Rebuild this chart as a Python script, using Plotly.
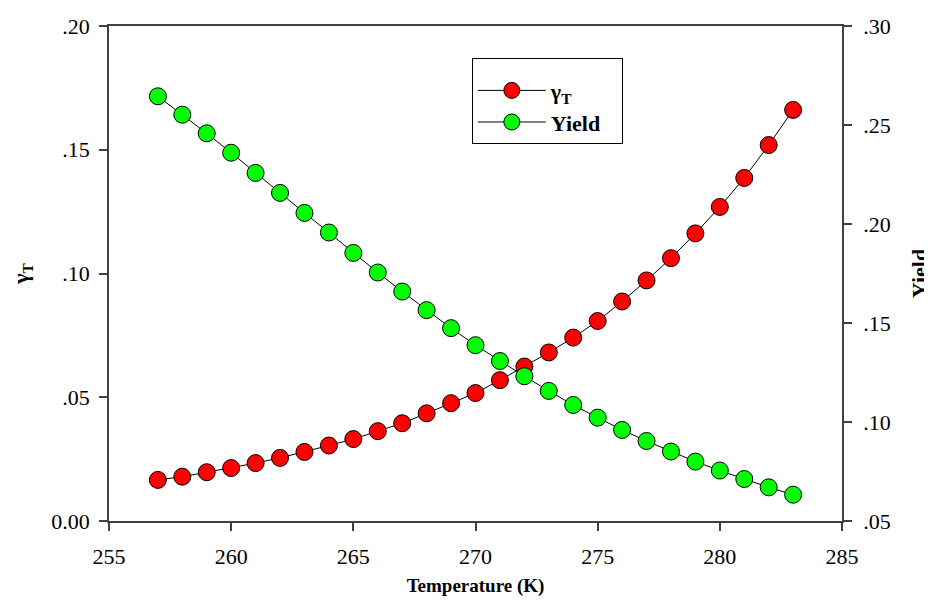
import plotly.graph_objects as go

temperature = list(range(257, 284))
gamma_t = [0.0166, 0.0179, 0.0197, 0.0214, 0.0234, 0.0255, 0.0279, 0.0305, 0.0331, 0.0363,
           0.0395, 0.0435, 0.0476, 0.0517, 0.0569, 0.0624, 0.0681, 0.0741, 0.0808, 0.0887,
           0.0972, 0.1062, 0.1162, 0.1269, 0.1386, 0.1519, 0.1661]
yield_vals = [0.2645, 0.2552, 0.2458, 0.2360, 0.2258, 0.2157, 0.2056, 0.1957, 0.1854, 0.1755,
              0.1659, 0.1565, 0.1474, 0.1388, 0.1308, 0.1231, 0.1157, 0.1086, 0.1022, 0.0960,
              0.0904, 0.0851, 0.0800, 0.0755, 0.0712, 0.0670, 0.0633]

x_ticks = [255, 260, 265, 270, 275, 280, 285]
left_ticks = [0.0, 0.05, 0.10, 0.15, 0.20]
left_labels = ["0.00", ".05", ".10", ".15", ".20"]
right_ticks = [0.05, 0.10, 0.15, 0.20, 0.25, 0.30]
right_labels = [".05", ".10", ".15", ".20", ".25", ".30"]

font_family = "Liberation Serif, Times New Roman, serif"
axis_col = "#404040"
tick_font = dict(family=font_family, size=22, color="black")

fig = go.Figure()
fig.add_trace(go.Scatter(
    x=temperature, y=gamma_t, mode="lines+markers",
    name="<b>γ<sub>T</sub></b>",
    line=dict(color="black", width=1),
    marker=dict(size=17, color="#FF0000", line=dict(color="black", width=1)),
    yaxis="y"))
fig.add_trace(go.Scatter(
    x=temperature, y=yield_vals, mode="lines+markers",
    name="<b>Yield</b>&nbsp;&nbsp;&nbsp;",
    line=dict(color="black", width=1),
    marker=dict(size=17, color="#00FF00", line=dict(color="black", width=1)),
    yaxis="y2"))

fig.update_layout(
    width=932, height=609,
    margin=dict(l=101, r=98, t=18, b=96),
    paper_bgcolor="white", plot_bgcolor="white",
    font=dict(family=font_family, size=19, color="black"),
    showlegend=True,
    legend=dict(x=0.495, y=0.935, xanchor="left", yanchor="top",
                bordercolor="black", borderwidth=1, bgcolor="white",
                font=dict(family=font_family, size=22, color="black"),
                title=dict(text="&nbsp;", font=dict(size=8)),
                itemwidth=68, tracegroupgap=2),
    xaxis=dict(range=[255, 285], tickvals=x_ticks, ticks="outside", ticklen=8,
               tickcolor=axis_col, tickwidth=1.5, automargin=False,
               tickfont=tick_font, ticklabelstandoff=7,
               showline=True, linecolor=axis_col, linewidth=1.5, mirror=True,
               showgrid=False, zeroline=False,
               title=dict(text="<b>Temperature (K)</b>", standoff=11,
                          font=dict(family=font_family, size=19))),
    yaxis=dict(range=[0, 0.20], tickvals=left_ticks, ticktext=left_labels,
               ticks="outside", ticklen=8, tickcolor=axis_col, tickwidth=1.5,
               automargin=False, tickfont=tick_font, ticklabelstandoff=5,
               showline=True, linecolor=axis_col, linewidth=1.5,
               showgrid=False, zeroline=False,
               title=dict(text="<b>γ<sub>T</sub></b>", standoff=20,
                          font=dict(family=font_family, size=22))),
    yaxis2=dict(range=[0.05, 0.30], tickvals=right_ticks, ticktext=right_labels,
                overlaying="y", side="right",
                ticks="outside", ticklen=8, tickcolor=axis_col, tickwidth=1.5,
                automargin=False, tickfont=tick_font, ticklabelstandoff=7,
                showline=True, linecolor=axis_col, linewidth=1.5,
                showgrid=False, zeroline=False,
                title=dict(text="<b>Yield</b>", standoff=22,
                           font=dict(family=font_family, size=22))),
)

fig.write_html("out.html")
